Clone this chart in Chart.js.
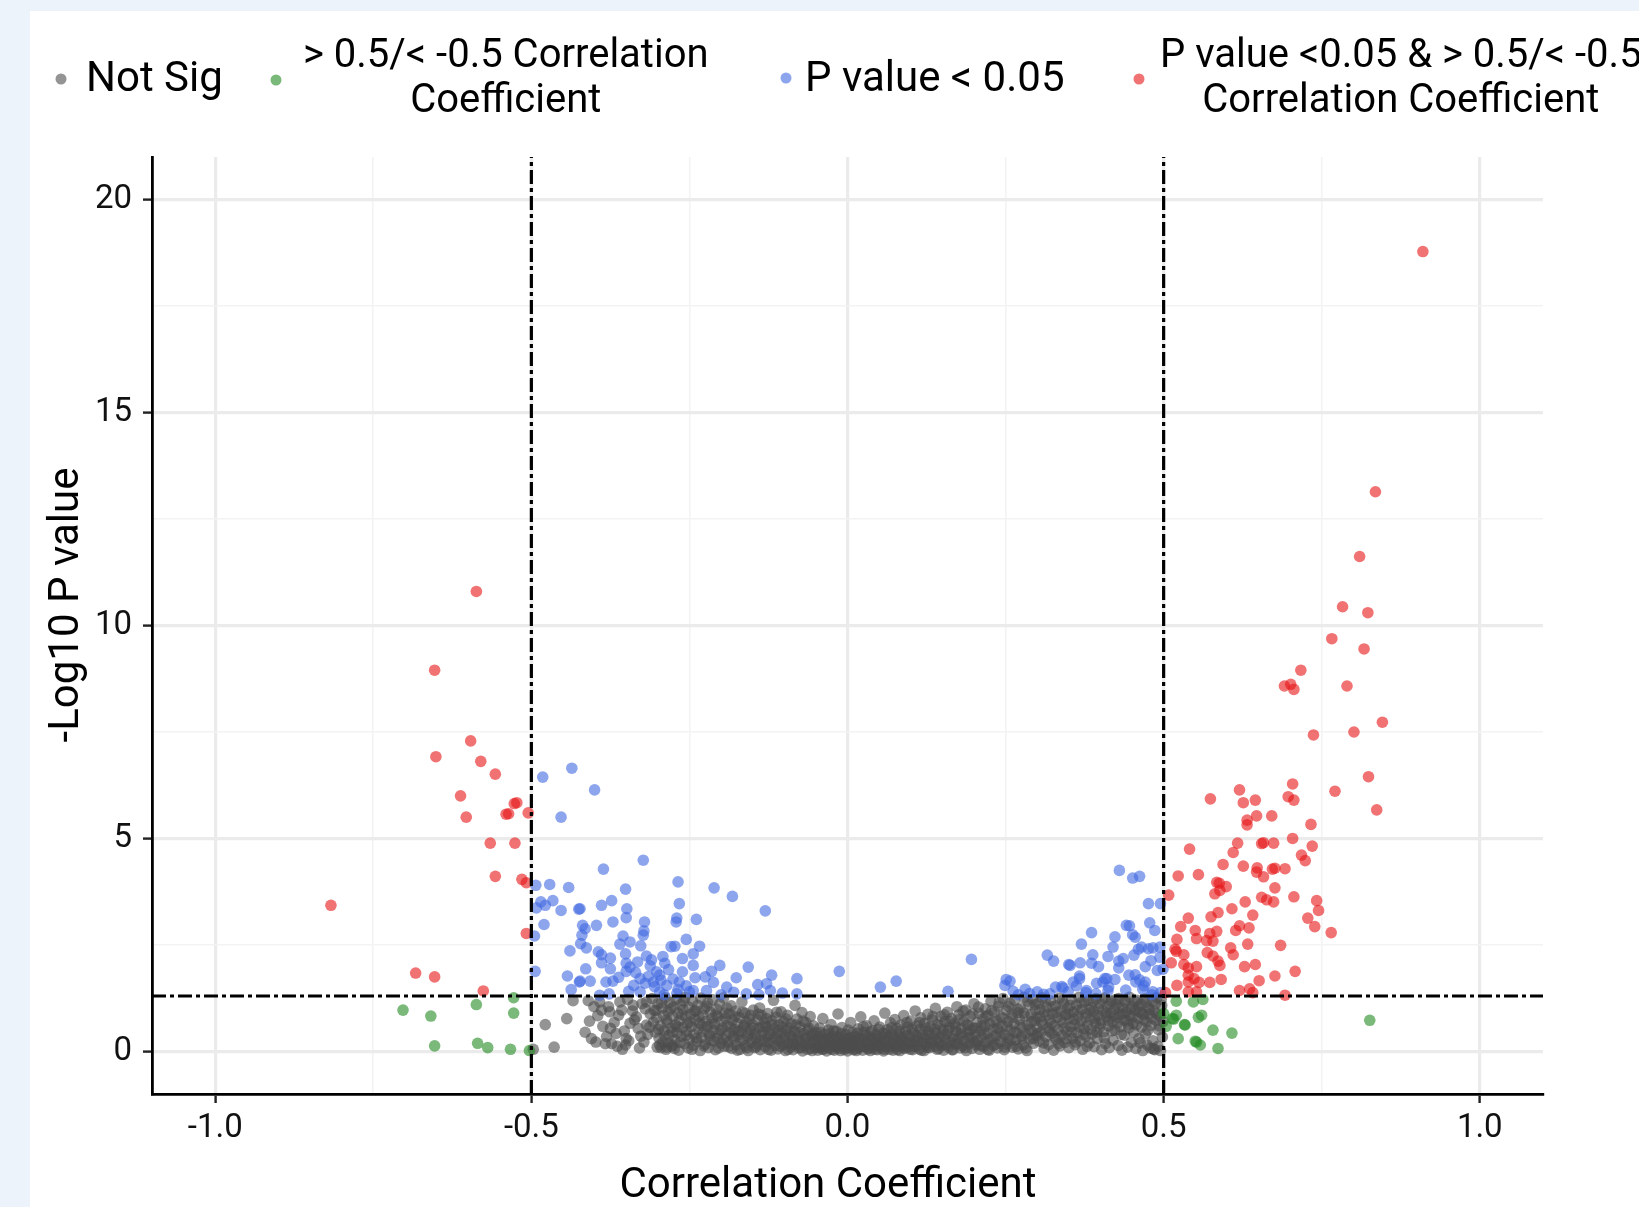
<!DOCTYPE html>
<html><head><meta charset="utf-8">
<script src="https://cdn.jsdelivr.net/npm/chart.js@4/dist/chart.umd.min.js"></script>
<style>
html,body{margin:0;padding:0;}
body{width:1639px;height:1207px;background:#ecf3fb;position:relative;overflow:hidden;}
#panel{position:absolute;left:30px;top:11px;right:0;bottom:0;background:#fff;}
#c{position:absolute;left:0;top:0;}
</style></head><body>
<div id="panel"></div>
<canvas id="c" width="1639" height="1207"></canvas>
<script>
// ---------- data ----------
const seriesNames = ['Not Sig', '> 0.5/< -0.5 Correlation\nCoefficient', 'P value < 0.05', 'P value <0.05 & > 0.5/< -0.5\nCorrelation Coefficient'];
const xTitle = 'Correlation Coefficient';
const yTitle = '-Log10 P value';
const xTickValues = [-1, -0.75, -0.5, -0.25, 0, 0.25, 0.5, 0.75, 1];
const xTickLabels = ['-1.0', '', '-0.5', '', '0.0', '', '0.5', '', '1.0'];
const yTickValues = [0, 2.5, 5, 7.5, 10, 12.5, 15, 17.5, 20];
const yTickLabels = ['0', '', '5', '', '10', '', '15', '', '20'];
const corrCutoffs = [-0.5, 0.5];
const pCutoff = [1.30103];
const xRange = [-1.1, 1.1];
const yRange = [-1, 21];

// P value <0.05 & |r| > 0.5
const both = [
[-0.587,10.80],[-0.653,8.95],[-0.596,7.29],[-0.651,6.92],[-0.580,6.81],[-0.557,6.51],[-0.612,6.00],[-0.523,5.84],[-0.527,5.82],[-0.536,5.58],[-0.540,5.57],[-0.505,5.60],[-0.603,5.50],[-0.565,4.89],[-0.526,4.89],[-0.557,4.11],[-0.515,4.04],[-0.508,3.96],[-0.817,3.43],[-0.508,2.77],[-0.683,1.84],[-0.653,1.75],[-0.576,1.42],
[0.910,18.78],[0.835,13.14],[0.810,11.62],[0.783,10.44],[0.823,10.30],[0.766,9.69],[0.817,9.45],[0.717,8.95],[0.691,8.58],[0.701,8.62],[0.706,8.50],[0.790,8.58],[0.846,7.73],[0.737,7.43],[0.801,7.50],
[0.824,6.45],[0.771,6.11],[0.837,5.67],[0.704,6.28],[0.620,6.14],[0.574,5.93],[0.626,5.84],[0.645,5.90],[0.697,5.98],[0.706,5.90],[0.647,5.53],[0.632,5.43],[0.632,5.32],[0.671,5.53],[0.733,5.33],[0.704,5.00],[0.735,4.82],[0.655,4.88],[0.658,4.90],[0.674,4.89],[0.617,4.89],[0.610,4.67],[0.541,4.75],[0.594,4.39],[0.626,4.35],[0.648,4.31],[0.647,4.21],[0.672,4.28],[0.676,4.30],[0.692,4.29],[0.718,4.61],[0.724,4.48],[0.658,4.10],[0.523,4.12],[0.555,4.15],[0.588,3.95],[0.584,3.97],[0.599,3.87],[0.589,3.78],[0.581,3.70],[0.676,3.84],[0.508,3.67],[0.655,3.62],[0.663,3.56],[0.674,3.51],[0.706,3.63],[0.742,3.54],[0.745,3.31],[0.728,3.13],[0.739,2.93],[0.765,2.79],[0.629,3.51],[0.608,3.35],[0.641,3.20],[0.586,3.26],[0.575,3.16],[0.539,3.13],[0.527,2.93],[0.550,2.84],[0.573,2.77],[0.584,2.82],[0.620,2.95],[0.614,2.84],[0.635,2.90],[0.552,2.65],[0.568,2.60],[0.578,2.59],[0.521,2.63],[0.633,2.52],[0.685,2.49],[0.518,2.40],[0.520,2.35],[0.532,2.27],[0.606,2.43],[0.569,2.32],[0.578,2.24],[0.586,2.12],[0.589,2.02],[0.610,2.27],[0.512,2.08],[0.532,2.04],[0.539,1.96],[0.552,1.99],[0.628,1.99],[0.645,2.04],[0.539,1.79],[0.548,1.71],[0.556,1.62],[0.539,1.63],[0.573,1.62],[0.591,1.69],[0.651,1.66],[0.676,1.77],[0.708,1.88],[0.521,1.55],[0.539,1.40],[0.552,1.40],[0.620,1.43],[0.636,1.47],[0.641,1.38],[0.692,1.32],[0.503,1.38]
];

// |r| > 0.5 only
const corrOnly = [
[-0.528,1.26],[-0.703,0.97],[-0.587,1.10],[-0.659,0.83],[-0.528,0.90],[-0.653,0.13],[-0.585,0.19],[-0.569,0.09],[-0.533,0.05],[-0.503,0.02],
[0.520,1.18],[0.547,1.16],[0.562,1.22],[0.500,0.89],[0.520,0.85],[0.516,0.76],[0.534,0.62],[0.555,0.80],[0.560,0.85],[0.504,0.59],[0.523,0.30],[0.550,0.24],[0.558,0.15],[0.578,0.50],[0.608,0.43],[0.586,0.07],[0.826,0.73],[0.514,0.77],[0.533,0.63],[0.552,0.22]
];

// P value < 0.05 only
const pOnly = [
[-0.482,6.44],[-0.436,6.65],[-0.453,5.50],[-0.400,6.14],
[-0.493,3.90],[-0.471,3.92],[-0.441,3.85],[-0.485,3.51],[-0.492,3.37],[-0.478,3.43],[-0.466,3.54],[-0.453,3.31],[-0.425,3.34],[-0.480,2.98],[-0.495,2.71],[-0.439,2.36],[-0.494,1.88],[-0.443,1.77],[-0.437,1.45],[-0.424,1.63],
[-0.323,4.49],[-0.386,4.28],[-0.268,3.98],[-0.211,3.84],[-0.182,3.64],[-0.130,3.30],[-0.351,3.81],[-0.373,3.54],[-0.423,3.35],[-0.389,3.43],[-0.349,3.35],[-0.350,3.14],[-0.266,3.47],[-0.270,3.13],[-0.271,3.04],[-0.239,3.10],[-0.321,3.04],[-0.371,3.04],[-0.419,2.96],[-0.397,2.96],[-0.415,2.88],[-0.420,2.73],[-0.322,2.83],[-0.323,2.73],[-0.355,2.71],[-0.344,2.57],[-0.360,2.52],[-0.327,2.48],[-0.255,2.63],[-0.279,2.46],[-0.273,2.47],[-0.234,2.47],[-0.422,2.53],[-0.413,2.43],[-0.394,2.34],[-0.389,2.27],[-0.351,2.29],[-0.318,2.24],[-0.292,2.23],[-0.261,2.18],[-0.244,2.29],[-0.389,2.08],[-0.375,2.19],[-0.350,2.07],[-0.332,2.10],[-0.312,2.01],[-0.289,2.07],[-0.244,2.02],[-0.202,2.02],[-0.157,1.98],[-0.414,1.94],[-0.375,1.94],[-0.344,1.98],[-0.302,1.87],[-0.261,1.87],[-0.215,1.88],[-0.362,1.74],[-0.328,1.71],[-0.297,1.79],[-0.276,1.70],[-0.241,1.73],[-0.225,1.75],[-0.176,1.73],[-0.120,1.79],[-0.080,1.71],[-0.013,1.88],[-0.423,1.65],[-0.407,1.65],[-0.382,1.63],[-0.371,1.65],[-0.320,1.60],[-0.307,1.63],[-0.286,1.55],[-0.266,1.63],[-0.255,1.54],[-0.212,1.62],[-0.191,1.51],[-0.142,1.57],[-0.128,1.59],[-0.392,1.32],[-0.377,1.35],[-0.346,1.41],[-0.328,1.40],[-0.297,1.40],[-0.244,1.43],[-0.223,1.43],[-0.160,1.35],[-0.122,1.43],[-0.103,1.37],[-0.080,1.35],
[-0.335,1.85],[-0.315,1.76],[-0.305,1.52],[-0.283,1.92],[-0.268,1.46],[-0.338,1.55],[-0.310,2.15],[-0.295,1.67],[-0.350,1.88],[-0.290,1.33],[-0.270,1.36],[-0.250,1.40],[-0.200,1.33],[-0.180,1.39],[-0.140,1.33],
[0.430,4.25],[0.451,4.07],[0.462,4.11],[0.476,3.47],[0.495,3.47],[0.386,2.79],[0.370,2.52],[0.423,2.69],[0.441,2.96],[0.446,2.95],[0.451,2.74],[0.455,2.68],[0.478,3.02],[0.486,2.84],[0.316,2.26],[0.326,2.12],[0.350,2.04],[0.368,2.08],[0.388,2.27],[0.386,2.07],[0.397,1.99],[0.412,2.23],[0.420,2.45],[0.429,2.12],[0.436,2.18],[0.453,2.26],[0.460,2.40],[0.465,2.45],[0.476,2.41],[0.483,2.43],[0.494,2.45],[0.480,2.13],[0.471,1.99],[0.494,2.21],[0.490,1.90],[0.499,1.93],[0.429,1.96],[0.410,1.71],[0.423,1.69],[0.445,1.79],[0.455,1.80],[0.462,1.68],[0.471,1.63],[0.367,1.77],[0.357,1.63],[0.394,1.60],[0.404,1.63],[0.329,1.51],[0.339,1.52],[0.378,1.43],[0.412,1.43],[0.440,1.44],[0.467,1.46],[0.483,1.40],[0.320,1.35],[0.349,1.40],[0.393,1.35],[0.495,1.38],
[0.196,2.16],[0.052,1.51],[0.077,1.65],[0.159,1.41],[0.251,1.69],[0.257,1.65],[0.249,1.55],[0.262,1.41],[0.281,1.46],[0.270,1.33],[0.288,1.36],[0.352,2.02],[0.341,1.49],[0.362,1.54],[0.367,1.71],[0.377,1.38],[0.407,1.71],[0.413,1.51],[0.456,1.63],[0.469,1.54],[0.481,1.33],[0.310,1.34],[0.300,1.40]
];

// not significant
const notSig = [
[-0.497,0.05],[-0.464,0.10],[-0.478,0.63],[-0.444,0.77],[-0.434,1.19],[-0.410,1.19],[-0.405,0.30],[-0.389,0.97],[-0.387,0.59],[-0.375,0.54],[-0.383,0.18],[-0.373,0.18],[-0.392,1.16],[-0.376,0.93],[-0.362,0.85],[-0.360,1.16],[-0.350,0.30],[-0.351,0.15],[-0.334,0.81],[-0.331,0.54],[-0.320,1.00],[-0.318,1.16],[-0.318,0.62],[-0.307,0.69],[-0.301,0.10],[-0.297,0.15],[-0.286,0.10],[-0.276,0.15],
[-0.366,0.42],[-0.344,0.66],[-0.339,1.08],[-0.327,0.36],[-0.312,0.88],[-0.356,0.05],[-0.322,0.22],[-0.340,0.95],[-0.401,1.05],[-0.348,1.22],
[-0.309,1.24],[-0.306,0.97],[-0.304,0.45],[-0.302,0.79],[-0.300,1.12],[-0.298,0.31],[-0.296,0.60],[-0.293,1.02],[-0.292,0.22],[-0.291,0.84],[-0.290,0.48],[-0.288,1.26],[-0.287,0.05],
[-0.285,0.68],[-0.284,0.93],[-0.282,0.38],[-0.281,1.15],[-0.279,0.55],[-0.278,0.12],[-0.276,0.82],[-0.275,1.05],[-0.273,0.27],[-0.272,0.63],[-0.271,1.22],[-0.270,0.44],[-0.268,0.90],[-0.267,0.03],
[-0.266,0.72],[-0.264,1.10],[-0.263,0.35],[-0.261,0.56],[-0.260,0.98],[-0.258,0.18],[-0.257,1.27],[-0.256,0.81],[-0.254,0.47],[-0.253,0.65],[-0.252,0.08],[-0.251,1.04],[-0.250,0.29],
[-0.248,0.87],[-0.247,0.58],[-0.245,1.18],[-0.244,0.14],[-0.243,0.40],[-0.241,0.75],[-0.240,0.95],[-0.238,0.24],[-0.237,1.08],[-0.236,0.52],[-0.234,0.66],[-0.233,0.02],[-0.232,1.25],[-0.231,0.33],
[-0.229,0.85],[-0.228,0.46],[-0.226,1.01],[-0.225,0.17],[-0.224,0.70],[-0.222,0.59],[-0.221,1.14],[-0.220,0.09],[-0.218,0.37],[-0.217,0.92],[-0.216,0.26],[-0.214,0.78],[-0.213,1.21],[-0.212,0.50],
[-0.210,0.64],[-0.209,0.04],[-0.207,0.99],[-0.206,0.31],[-0.205,0.83],[-0.203,0.43],[-0.202,1.11],[-0.200,0.19],[-0.199,0.71],[-0.198,0.55],[-0.196,1.26],[-0.195,0.12],[-0.194,0.90],[-0.192,0.36],
[-0.190,0.61],[-0.189,0.22],[-0.187,0.88],[-0.186,0.44],[-0.184,1.07],[-0.183,0.07],[-0.182,0.73],[-0.180,0.30],[-0.179,0.52],[-0.177,0.95],[-0.176,0.15],[-0.175,0.66],[-0.173,0.39],
[-0.171,0.80],[-0.170,0.05],[-0.168,0.47],[-0.167,1.16],[-0.165,0.27],[-0.164,0.58],[-0.162,0.90],[-0.161,0.13],[-0.160,0.69],[-0.158,0.36],[-0.157,0.02],[-0.155,0.76],[-0.154,0.50],[-0.152,0.21],
[-0.150,0.63],[-0.149,0.97],[-0.147,0.09],[-0.146,0.41],[-0.145,0.31],[-0.143,0.74],[-0.142,0.17],[-0.140,0.55],[-0.139,1.02],[-0.138,0.04],[-0.136,0.84],[-0.135,0.26],[-0.133,0.45],[-0.132,0.67],
[-0.130,0.11],[-0.129,0.59],[-0.127,0.35],[-0.126,0.89],[-0.124,0.20],[-0.123,0.48],[-0.121,0.03],[-0.120,0.72],[-0.118,0.28],[-0.117,1.20],[-0.116,0.54],[-0.114,0.14],[-0.113,0.80],[-0.111,0.39],
[-0.110,0.06],[-0.108,0.62],[-0.107,0.24],[-0.105,0.93],[-0.104,0.43],[-0.102,0.16],[-0.101,0.70],[-0.099,0.33],[-0.098,0.02],[-0.096,0.51],[-0.095,0.85],[-0.093,0.19],[-0.092,0.40],[-0.090,0.10],
[-0.089,0.65],[-0.087,0.28],[-0.086,0.04],[-0.084,0.47],[-0.083,1.08],[-0.081,0.15],[-0.080,0.76],[-0.078,0.36],[-0.077,0.08],[-0.075,0.57],[-0.074,0.22],[-0.072,0.91],[-0.071,0.01],[-0.069,0.42],
[-0.068,0.13],[-0.066,0.68],[-0.065,0.30],[-0.063,0.05],[-0.062,0.50],[-0.060,0.18],[-0.059,0.82],[-0.057,0.37],[-0.056,0.02],[-0.054,0.60],[-0.053,0.25],[-0.051,0.09],[-0.050,0.44],
[-0.048,0.16],[-0.047,0.03],[-0.045,0.34],[-0.044,0.55],[-0.042,0.11],[-0.041,0.24],[-0.039,0.77],[-0.038,0.06],[-0.036,0.41],[-0.035,0.19],[-0.033,0.01],[-0.032,0.29],[-0.030,0.50],
[-0.029,0.08],[-0.027,0.22],[-0.026,0.63],[-0.024,0.14],[-0.023,0.37],[-0.021,0.03],[-0.020,0.27],[-0.018,0.47],[-0.017,0.10],[-0.015,0.88],[-0.014,0.18],[-0.012,0.32],[-0.011,0.02],
[-0.009,0.56],[-0.008,0.12],[-0.006,0.25],[-0.005,0.05],[-0.003,0.40],[-0.002,0.17],[0.000,0.01],[0.002,0.30],[0.003,0.09],[0.005,0.68],[0.006,0.21],[0.008,0.44],[0.009,0.04],
[0.011,0.14],[0.012,0.35],[0.014,0.02],[0.015,0.26],[0.017,0.53],[0.018,0.08],[0.020,0.19],[0.021,0.81],[0.023,0.31],[0.024,0.03],[0.026,0.45],[0.027,0.12],[0.029,0.23],
[0.030,0.60],[0.032,0.06],[0.033,0.36],[0.035,0.16],[0.036,0.02],[0.038,0.28],[0.039,0.49],[0.041,0.10],[0.042,0.72],[0.044,0.21],[0.045,0.39],[0.047,0.04],[0.048,0.14],
[0.050,0.31],[0.051,0.57],[0.053,0.08],[0.054,0.20],[0.056,0.43],[0.057,0.01],[0.059,0.90],[0.060,0.26],[0.062,0.12],[0.063,0.51],[0.065,0.35],[0.066,0.05],[0.068,0.67],
[0.069,0.18],[0.071,0.42],[0.072,0.03],[0.074,0.29],[0.075,0.75],[0.077,0.11],[0.078,0.54],[0.080,0.22],[0.081,0.38],[0.083,0.02],[0.084,0.62],[0.086,0.15],[0.087,0.33],[0.089,0.84],[0.090,0.07],[0.092,0.47],[0.093,0.24],[0.095,0.58],[0.096,0.10],[0.098,0.36],
[0.100,0.71],[0.101,0.19],[0.103,0.04],[0.104,0.45],[0.106,0.27],[0.107,0.95],[0.109,0.13],[0.110,0.60],[0.112,0.34],[0.113,0.06],[0.115,0.52],[0.116,0.79],[0.118,0.21],
[0.119,0.40],[0.121,0.02],[0.122,0.66],[0.124,0.16],[0.125,0.30],[0.127,0.87],[0.128,0.48],[0.130,0.09],[0.131,0.58],[0.133,0.24],[0.134,0.74],[0.136,0.37],[0.137,0.12],
[0.139,1.01],[0.140,0.44],[0.142,0.05],[0.143,0.63],[0.145,0.20],[0.146,0.33],[0.148,0.82],[0.149,0.14],[0.151,0.51],[0.152,0.03],[0.154,0.70],[0.155,0.27],[0.157,0.41],[0.158,0.92],
[0.160,0.10],[0.161,0.56],[0.163,0.22],[0.164,0.77],[0.166,0.35],[0.167,0.04],[0.169,0.64],[0.170,0.17],[0.172,0.47],[0.173,1.05],[0.175,0.29],[0.176,0.86],[0.178,0.08],[0.179,0.53],
[0.181,0.38],[0.182,0.13],[0.184,0.71],[0.185,0.25],[0.187,0.97],[0.188,0.02],[0.190,0.45],[0.191,0.61],[0.193,0.19],[0.194,0.83],[0.196,0.32],[0.197,0.07],[0.199,0.55],
[0.200,1.12],[0.202,0.40],[0.203,0.15],[0.205,0.68],[0.206,0.26],[0.208,0.90],[0.209,0.05],[0.211,0.49],[0.212,0.34],[0.214,0.76],[0.215,0.11],[0.217,0.59],[0.218,1.00],[0.219,0.21],
[0.221,0.43],[0.222,0.85],[0.224,0.03],[0.225,0.64],[0.227,1.18],[0.228,0.28],[0.230,0.52],[0.231,0.14],[0.233,0.93],[0.234,0.37],[0.236,0.72],[0.237,0.08],[0.239,1.06],[0.240,0.47],
[0.242,0.23],[0.243,0.81],[0.245,0.60],[0.246,1.24],[0.248,0.04],[0.249,0.39],[0.251,0.97],[0.252,0.17],[0.254,0.70],[0.255,0.31],[0.257,1.13],[0.258,0.50],[0.260,0.88],[0.261,0.10],
[0.263,0.65],[0.264,1.20],[0.266,0.27],[0.267,0.44],[0.269,0.91],[0.270,0.06],[0.272,0.75],[0.273,1.02],[0.275,0.36],[0.276,0.56],[0.278,0.15],[0.279,1.27],[0.281,0.83],[0.282,0.41],
[0.284,0.02],[0.285,0.62],[0.287,1.09],[0.288,0.29],[0.290,0.86],[0.291,0.48],[0.293,1.22],[0.294,0.19],[0.296,0.72],[0.297,0.97],[0.299,0.37],[0.300,0.55],
[0.302,1.14],[0.303,0.24],[0.305,0.81],[0.306,0.45],[0.308,1.26],[0.309,0.63],[0.311,0.07],[0.312,0.93],[0.314,0.34],[0.315,1.04],[0.317,0.55],[0.318,0.16],
[0.320,0.74],[0.321,1.19],[0.323,0.42],[0.324,0.88],[0.326,0.03],[0.327,0.60],[0.329,1.07],[0.330,0.28],[0.332,0.80],[0.333,0.50],[0.335,1.25],[0.336,0.13],[0.338,0.95],
[0.339,0.38],[0.341,0.68],[0.342,1.12],[0.344,0.21],[0.345,0.86],[0.347,0.47],[0.348,1.01],[0.350,0.09],[0.351,0.77],[0.353,0.58],[0.354,1.22],[0.356,0.31],[0.357,0.92],
[0.359,0.64],[0.360,0.16],[0.362,1.09],[0.363,0.44],[0.365,0.83],[0.366,1.27],[0.368,0.25],[0.369,0.71],[0.371,0.98],[0.372,0.05],[0.374,0.53],[0.375,1.16],[0.377,0.36],
[0.378,0.89],[0.380,0.62],[0.381,1.20],[0.383,0.20],[0.384,0.76],[0.386,1.03],[0.387,0.41],[0.389,0.94],[0.390,0.11],[0.392,0.67],[0.393,1.24],[0.395,0.30],[0.396,0.85],
[0.398,0.55],[0.399,1.13],[0.401,0.73],[0.402,0.04],[0.404,0.96],[0.405,0.46],[0.407,1.26],[0.408,0.18],[0.410,0.82],[0.411,1.06],[0.413,0.60],[0.414,0.09],[0.416,0.90],
[0.417,1.18],[0.419,0.70],[0.420,0.26],[0.422,0.99],[0.423,0.50],[0.425,1.10],[0.426,0.79],[0.428,0.14],[0.429,1.24],[0.431,0.87],[0.432,0.58],[0.434,0.03],[0.435,1.02],
[0.437,0.74],[0.438,0.38],[0.440,1.15],[0.441,0.92],[0.443,0.10],[0.444,0.63],[0.446,1.27],[0.447,0.84],[0.449,0.21],[0.450,1.05],[0.452,0.66],[0.453,0.45],[0.455,0.97],
[0.456,0.07],[0.458,1.20],[0.459,0.78],[0.461,0.30],[0.462,0.93],[0.464,1.11],[0.465,0.57],[0.467,0.02],[0.468,0.86],[0.470,1.23],[0.471,0.41],[0.473,0.69],[0.474,0.15],
[0.476,1.03],[0.477,0.88],[0.479,0.08],[0.480,0.61],[0.482,1.18],[0.483,0.25],[0.485,0.95],[0.486,0.04],[0.488,0.73],[0.489,1.26],[0.491,0.12],[0.492,0.51],[0.494,0.83],[0.495,0.02],[0.497,1.08],[0.498,0.34],
[-0.415,0.45],[-0.408,0.71],[-0.398,0.22],[-0.395,0.84],[-0.381,0.35],[-0.378,1.05],[-0.369,0.68],[-0.364,0.12],[-0.357,0.97],[-0.353,0.48],[-0.346,0.25],[-0.337,0.74],[-0.329,0.08],[-0.325,1.12],[-0.316,0.40],[-0.313,0.57],[-0.303,0.96],
[-0.299,0.52],[-0.295,0.09],[-0.294,1.14],[-0.289,0.36],[-0.286,0.74],[-0.283,0.20],[-0.280,1.00],[-0.277,0.46],[-0.274,0.07],[-0.269,0.58],[-0.265,0.21],[-0.262,0.86],[-0.259,1.18],[-0.255,0.38],[-0.249,0.69],[-0.246,0.05],[-0.242,0.95],[-0.239,0.31],[-0.235,0.82],[-0.230,0.60],[-0.227,0.13],[-0.223,1.06],[-0.219,0.42],[-0.215,0.66],[-0.211,0.24],[-0.208,0.87],[-0.204,0.08],[-0.201,0.50],[-0.197,0.29],[-0.193,0.78],[-0.191,1.02],[-0.188,0.11],[-0.185,0.57],[-0.181,0.35],[-0.178,0.82],[-0.174,0.03],[-0.172,0.48],[-0.169,0.25],[-0.166,0.92],[-0.163,0.62],[-0.159,0.08],[-0.156,0.42],[-0.153,0.85],[-0.151,0.30],[-0.148,0.55],[-0.144,0.11],[-0.141,0.88],[-0.137,0.37],[-0.134,0.58],[-0.131,0.23],[-0.128,0.77],[-0.125,0.05],[-0.122,0.40],[-0.119,0.63],[-0.115,0.31],[-0.112,0.92],[-0.109,0.49],[-0.106,0.12],[-0.103,0.58],[-0.100,0.27],[-0.097,0.76],[-0.094,0.05],[-0.091,0.55],[-0.088,0.35],[-0.085,0.17],[-0.082,0.62],[-0.079,0.26],[-0.076,0.44],[-0.073,0.09],[-0.070,0.71],[-0.067,0.32],[-0.064,0.19],[-0.061,0.55],[-0.058,0.07],[-0.055,0.41],[-0.052,0.27],
[-0.049,0.35],[-0.046,0.10],[-0.043,0.45],[-0.040,0.05],[-0.037,0.28],[-0.034,0.13],[-0.031,0.40],[-0.028,0.31],[-0.025,0.05],[-0.022,0.48],[-0.019,0.16],[-0.016,0.34],[-0.013,0.07],[-0.010,0.42],[-0.007,0.20],[-0.004,0.31],[-0.001,0.09],[0.001,0.50],[0.004,0.15],[0.007,0.33],[0.010,0.24],[0.013,0.06],[0.016,0.43],[0.019,0.30],[0.022,0.12],[0.025,0.58],[0.028,0.37],[0.031,0.20],[0.034,0.08],[0.037,0.46],[0.040,0.30],[0.043,0.05],[0.046,0.25],[0.049,0.52],[0.052,0.14],[0.055,0.34],[0.058,0.05],[0.061,0.42],[0.064,0.22],[0.067,0.11],[0.070,0.56],[0.073,0.33],[0.076,0.17],[0.079,0.04],[0.082,0.47],[0.085,0.26],[0.088,0.10],[0.091,0.36],[0.094,0.68],[0.097,0.20],[0.099,0.05],[0.102,0.52],[0.105,0.12],[0.108,0.38],[0.111,0.24],[0.114,0.68],[0.117,0.03],[0.120,0.30],
[0.123,0.55],[0.126,0.10],[0.129,0.40],[0.132,0.20],[0.135,0.82],[0.138,0.52],[0.141,0.28],[0.144,0.07],[0.147,0.60],[0.150,0.37],[0.153,0.86],[0.156,0.15],[0.159,0.49],[0.162,0.70],[0.165,0.04],[0.168,0.30],[0.171,0.58],[0.174,0.18],[0.177,0.75],[0.180,0.42],[0.183,0.95],[0.186,0.09],[0.189,0.63],[0.192,0.33],[0.195,0.50],[0.198,0.88],[0.201,0.22],[0.204,0.55],[0.207,1.04],[0.210,0.14],[0.213,0.61],[0.216,0.40],[0.219,0.82],[0.222,0.05],[0.225,0.29],[0.228,0.96],[0.231,0.69],[0.234,0.17],[0.237,0.54],[0.240,1.15],[0.243,0.35],[0.246,0.78],[0.249,0.10],[0.252,0.58],[0.255,1.05],[0.258,0.26],[0.261,0.80],[0.264,0.45],[0.267,0.12],[0.270,0.98],[0.273,0.62],[0.276,0.30],[0.279,0.90],[0.282,0.08],[0.285,1.18],[0.288,0.52],[0.291,0.70],[0.294,0.30],[0.297,1.10],[0.299,0.80],
[0.301,0.42],[0.304,0.98],[0.307,0.70],[0.310,0.20],[0.313,1.18],[0.316,0.86],[0.319,0.48],[0.322,0.65],[0.325,1.05],[0.328,0.35],[0.331,0.92],[0.334,0.18],[0.337,0.72],[0.340,1.20],[0.343,0.55],[0.346,0.30],[0.349,0.88],[0.352,1.08],[0.355,0.45],[0.358,0.75],[0.361,0.22],[0.364,0.96],[0.367,0.58],[0.370,1.15],[0.373,0.40],[0.376,0.80],[0.379,0.12],[0.382,0.98],[0.385,0.52],[0.388,1.18],[0.391,0.78],[0.394,0.45],[0.397,1.00],[0.400,0.65],[0.403,1.22],[0.406,0.32],[0.409,0.90],[0.412,0.72],[0.415,1.12],[0.418,0.48],[0.421,0.84],[0.424,1.22],[0.427,0.66],[0.430,1.02],[0.433,0.40],[0.436,0.88],[0.439,1.20],[0.442,0.72],[0.445,0.55],[0.448,1.00],[0.451,0.82],[0.454,1.18],[0.457,0.62],[0.460,1.05],[0.463,0.20],[0.466,0.90],[0.469,0.74],[0.472,1.15],[0.475,0.50],[0.478,0.98],[0.481,0.78],[0.484,0.06],[0.487,1.12],[0.490,0.88],[0.493,0.60],[0.496,1.22],[0.499,0.70]
];

// ---------- styles ----------
const FONT = 'Roboto';
const colNotSig = 'rgba(77,77,77,0.6)';
const colCorr = 'rgba(34,139,34,0.6)';
const colP = 'rgba(65,105,225,0.6)';
const colBoth = 'rgba(230,20,22,0.6)';
const PR = 5.8;

const toPts = a => a.map(p => ({x: p[0], y: p[1]}));
const lineStyle = {type: 'line', borderColor: '#000', borderWidth: 3.2, borderDash: [14, 4, 4, 4], pointRadius: 0, showLine: true, fill: false, order: 0, tension: 0};

const datasets = [
  {label: seriesNames[3], data: toPts(both), backgroundColor: colBoth, order: 1},
  {label: seriesNames[2], data: toPts(pOnly), backgroundColor: colP, order: 2},
  {label: seriesNames[1], data: toPts(corrOnly), backgroundColor: colCorr, order: 3},
  {label: seriesNames[0], data: toPts(notSig), backgroundColor: colNotSig, order: 4}
].map(d => Object.assign(d, {pointRadius: PR, pointHoverRadius: PR, borderWidth: 0, pointBorderWidth: 0}));

corrCutoffs.forEach(v => datasets.push(Object.assign({label: 'cut' + v, data: [{x: v, y: yRange[0]}, {x: v, y: yRange[1]}]}, lineStyle)));
pCutoff.forEach(v => datasets.push(Object.assign({label: 'p', data: [{x: xRange[0], y: v}, {x: xRange[1], y: v}]}, lineStyle)));

const legendColors = [colNotSig, colCorr, colP, colBoth];

const textPlugin = {
  id: 'texts',
  afterDraw(chart) {
    const ctx = chart.ctx;
    ctx.save();
    ctx.fillStyle = '#000';
    // axis titles
    ctx.font = '42px ' + FONT;
    ctx.textAlign = 'center';
    ctx.textBaseline = 'alphabetic';
    ctx.fillText(xTitle, 828, 1197);
    ctx.save();
    ctx.translate(78, 605);
    ctx.rotate(-Math.PI / 2);
    ctx.fillText(yTitle, 0, 0);
    ctx.restore();
    // legend
    const dots = [[61, 79], [276, 80], [786, 78], [1139, 79]];
    const textLeft = [86, 303, 805, 1160];
    seriesNames.forEach((name, i) => {
      ctx.beginPath();
      ctx.arc(dots[i][0], dots[i][1], 5.5, 0, Math.PI * 2);
      ctx.fillStyle = legendColors[i];
      ctx.fill();
      ctx.fillStyle = '#000';
      const lines = name.split('\n');
      if (lines.length === 1) {
        ctx.font = '42px ' + FONT;
        ctx.textAlign = 'left';
        ctx.fillText(lines[0], textLeft[i], 91);
      } else {
        ctx.font = '40px ' + FONT;
        const w = Math.max(...lines.map(l => ctx.measureText(l).width));
        ctx.textAlign = 'center';
        lines.forEach((l, k) => ctx.fillText(l, textLeft[i] + w / 2, 67 + k * 45));
      }
    });
    ctx.restore();
  }
};

const isMajorIdx = c => c.index % 2 === 0;

new Chart(document.getElementById('c'), {
  type: 'scatter',
  data: {datasets},
  options: {
    responsive: false,
    animation: false,
    devicePixelRatio: 1,
    events: [],
    layout: {padding: {left: 0, right: 96, top: 157, bottom: 0}},
    plugins: {legend: {display: false}, tooltip: {enabled: false}},
    scales: {
      x: {
        type: 'linear', min: xRange[0], max: xRange[1],
        afterFit: s => { s.height = 113; },
        afterBuildTicks: s => { s.ticks = xTickValues.map(v => ({value: v})); },
        ticks: {autoSkip: false, maxRotation: 0, padding: 6, color: '#111', font: {family: FONT, size: 33},
          callback: (v, i) => xTickLabels[i]},
        grid: {color: c => isMajorIdx(c) ? '#ebebeb' : '#f3f3f3', lineWidth: c => isMajorIdx(c) ? 3.2 : 1.6,
          tickLength: 9, tickWidth: 2.4, tickColor: c => isMajorIdx(c) ? '#222' : 'rgba(0,0,0,0)'},
        border: {display: true, color: '#000', width: 2.8}
      },
      y: {
        type: 'linear', min: yRange[0], max: yRange[1],
        afterFit: s => { s.width = 152; },
        afterBuildTicks: s => { s.ticks = yTickValues.map(v => ({value: v})); },
        ticks: {autoSkip: false, padding: 11, color: '#111', font: {family: FONT, size: 33},
          callback: (v, i) => yTickLabels[i]},
        grid: {color: c => isMajorIdx(c) ? '#ebebeb' : '#f3f3f3', lineWidth: c => isMajorIdx(c) ? 3.2 : 1.6,
          tickLength: 9, tickWidth: 2.4, tickColor: c => isMajorIdx(c) ? '#222' : 'rgba(0,0,0,0)'},
        border: {display: true, color: '#000', width: 2.8}
      }
    }
  },
  plugins: [textPlugin]
});
</script>
</body></html>
